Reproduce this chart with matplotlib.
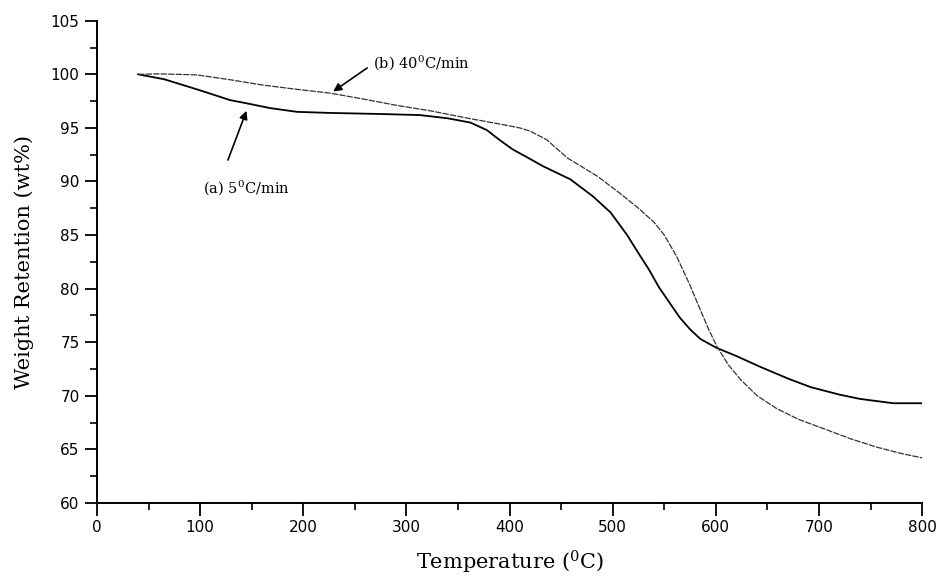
import matplotlib.pyplot as plt
from matplotlib.ticker import MultipleLocator

plt.rcParams['mathtext.fontset'] = 'dejavuserif'

# TGA curve at 5 C/min (solid)
temp_a = [40, 65, 97, 129, 145, 168, 194, 226, 275, 313, 340, 362, 378, 390, 403, 420,
          433, 459, 481, 498, 514, 525, 535, 545, 555, 565, 575, 585, 600, 620, 643,
          670, 692, 720, 740, 772, 800]
wt_a = [100.0, 99.55, 98.6, 97.6, 97.3, 96.85, 96.5, 96.4, 96.3, 96.2, 95.9, 95.5,
        94.8, 93.9, 93.0, 92.1, 91.4, 90.2, 88.6, 87.1, 85.0, 83.3, 81.8, 80.1, 78.7,
        77.3, 76.2, 75.3, 74.5, 73.7, 72.7, 71.6, 70.8, 70.1, 69.7, 69.3, 69.3]

# TGA curve at 40 C/min (dashed)
temp_b = [40, 60, 97, 129, 161, 194, 226, 258, 291, 323, 360, 394, 410, 420, 436, 456,
          485, 507, 525, 540, 550, 562, 575, 585, 593, 601, 612, 624, 640, 659, 680,
          708, 730, 756, 780, 800]
wt_b = [100.0, 100.05, 99.95, 99.5, 99.0, 98.6, 98.25, 97.7, 97.1, 96.6, 95.9, 95.3,
        95.0, 94.7, 93.9, 92.2, 90.5, 88.9, 87.5, 86.2, 85.0, 83.0, 80.3, 78.0, 76.2,
        74.6, 72.9, 71.5, 70.0, 68.8, 67.8, 66.8, 66.0, 65.2, 64.6, 64.2]

fig = plt.figure(figsize=(9.41, 5.78), dpi=100)
ax = fig.add_axes([0.103, 0.130, 0.877, 0.834])

ax.plot(temp_a, wt_a, color='black', lw=1.3)
ax.plot(temp_b, wt_b, color='#333333', lw=0.9, linestyle=(0, (5, 1)))

ax.set_xlim(0, 800)
ax.set_ylim(60, 105)
ax.xaxis.set_major_locator(MultipleLocator(100))
ax.xaxis.set_minor_locator(MultipleLocator(50))
ax.yaxis.set_major_locator(MultipleLocator(5))
ax.yaxis.set_minor_locator(MultipleLocator(2.5))

for s in ['top', 'right']:
    ax.spines[s].set_visible(False)
for s in ['left', 'bottom']:
    ax.spines[s].set_linewidth(1.4)
ax.tick_params(which='major', direction='out', length=9, width=1.3, labelsize=11)
ax.tick_params(which='minor', direction='out', length=5, width=1.2)

ax.set_xlabel(r'Temperature ($^{0}$C)', family='DejaVu Serif', fontsize=15, labelpad=10)
ax.set_ylabel('Weight Retention (wt%)', family='DejaVu Serif', fontsize=15, labelpad=12)

arrow = dict(arrowstyle='-|>', color='black', lw=1.2, shrinkA=0, shrinkB=0,
             mutation_scale=12)

ax.text(103, 89.4, r'(a) 5$^{0}$C/min', family='DejaVu Serif', fontsize=10.5,
        va='center')
ax.annotate('', xy=(145, 96.6), xytext=(127, 92.0), arrowprops=arrow)

ax.text(268, 101.1, r'(b) 40$^{0}$C/min', family='DejaVu Serif', fontsize=10.5,
        va='center')
ax.annotate('', xy=(229, 98.4), xytext=(262, 100.6), arrowprops=arrow)

fig.savefig('out.png', dpi=100)
